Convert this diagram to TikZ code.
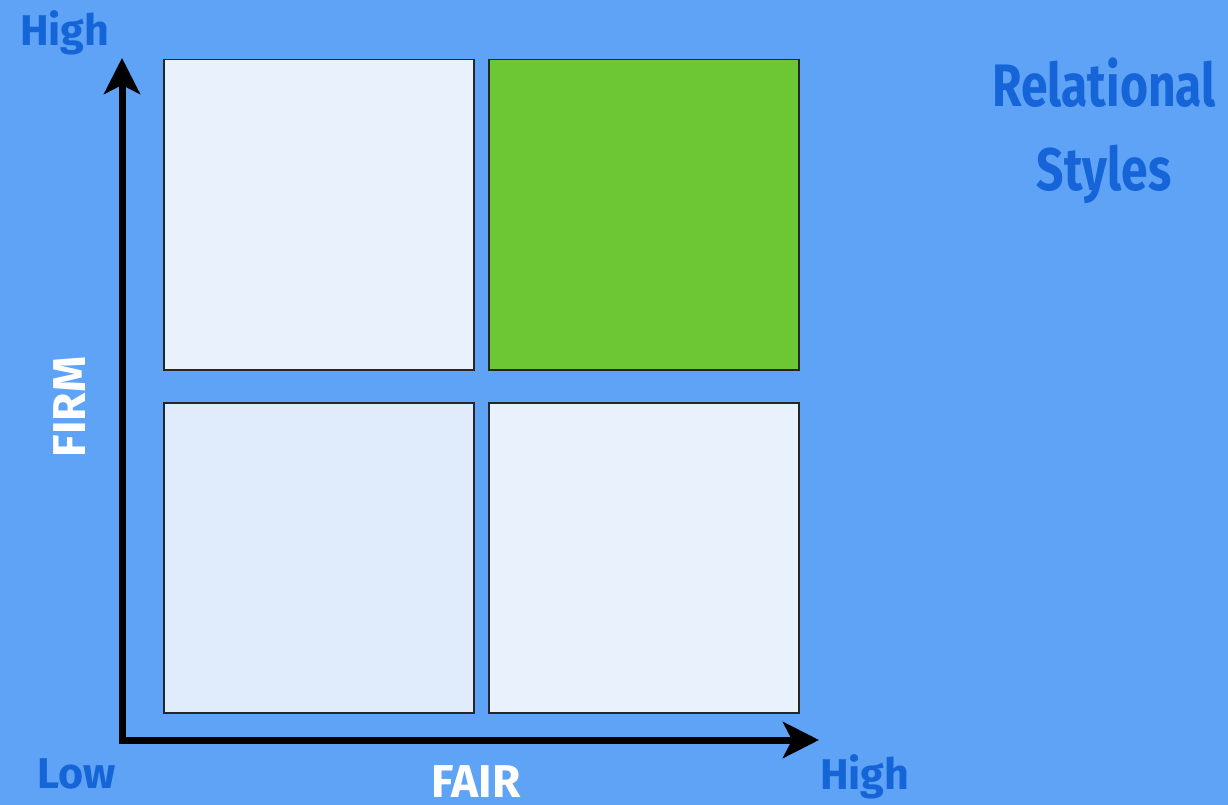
\documentclass[tikz,border=0pt]{standalone}
\usepackage{fontspec}
\setmainfont{Fira Sans}
\usetikzlibrary{arrows.meta}
\definecolor{bg}{HTML}{5FA3F6}
\definecolor{titleblue}{HTML}{1565D8}
\definecolor{boxlight}{HTML}{E8F1FC}
\definecolor{boxlightb}{HTML}{E0ECFC}
\definecolor{boxgreen}{HTML}{6DC634}
\tikzset{
  quad/.style={draw=black!85, line width=1.5pt, minimum width=310pt, minimum height=310pt, inner sep=0pt, anchor=north west},
  axis/.style={line width=7pt, -{Stealth[length=36pt,width=36pt,inset=9pt]}},
  lbl/.style={font=\fontsize{43}{45}\selectfont\bfseries, text=titleblue, inner sep=0pt},
  axlbl/.style={font=\fontsize{46}{48}\selectfont\bfseries, text=white, inner sep=0pt},
  ttl/.style={font=\fontsize{60}{64}\selectfont\bfseries, text=titleblue, xscale=0.8, anchor=base, inner sep=0pt},
}
\begin{document}
\begin{tikzpicture}[x=1pt,y=-1pt]
\fill[bg] (0,0) rectangle (1228,805);
\useasboundingbox (0,0) rectangle (1228,805);
\node[quad, fill=boxlight] (q1) at (163,59) {};
\node[quad, fill=boxgreen] (q2) at (488,59) {};
\node[quad, fill=boxlightb] (q3) at (163,402) {};
\node[quad, fill=boxlight] (q4) at (488,402) {};
\coordinate (o) at (122,740);
\coordinate (ytop) at (122,58);
\coordinate (xstart) at (118.5,740);
\coordinate (xend) at (819,740);
\draw[axis] (xstart) -- (xend);
\draw[axis] (o) -- (ytop);
\node[lbl, anchor=base west] (hy) at (20,46) {High};
\node[lbl, anchor=base west] (lo) at (37,788) {Low};
\node[lbl, anchor=base west] (hx) at (820,789) {High};
\node[axlbl, anchor=base] (fair) at (476,797) {FAIR};
\node[axlbl, anchor=base, rotate=90] (firm) at (85,407) {FIRM};
\node[ttl] (t1) at (1104,107) {Relational};
\node[ttl] (t2) at (1104,191) {Styles};
\end{tikzpicture}
\end{document}
